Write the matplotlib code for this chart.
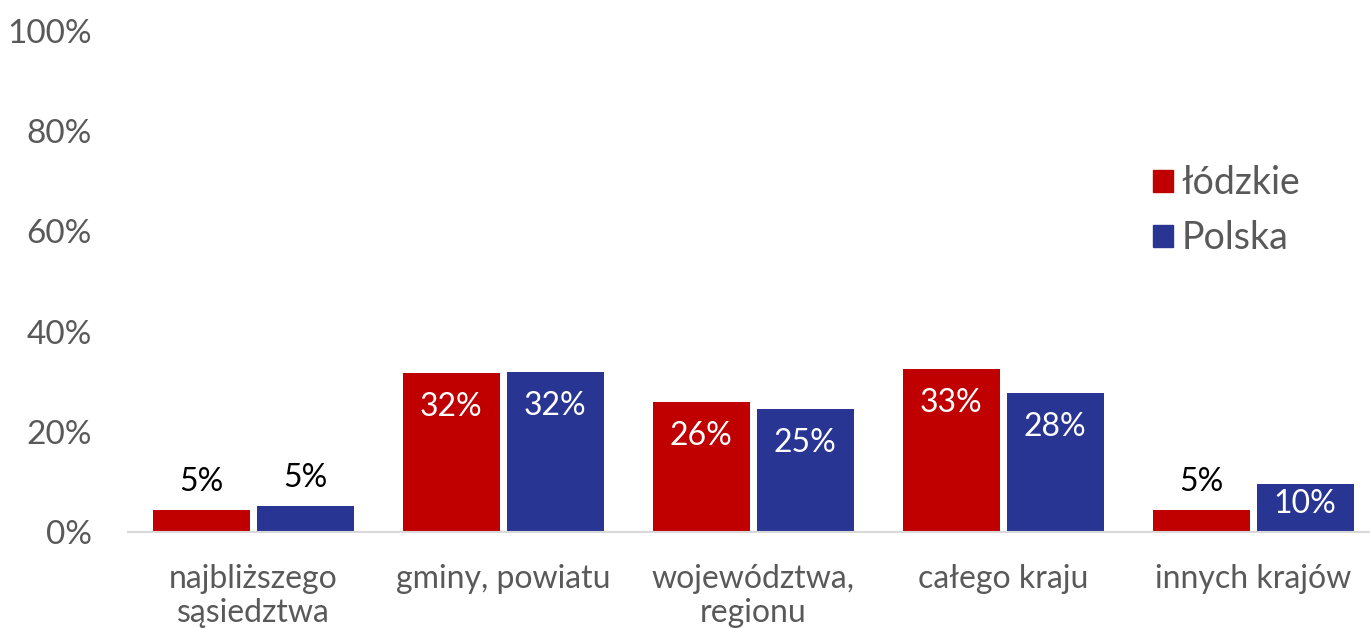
import matplotlib
matplotlib.use("Agg")
import matplotlib.pyplot as plt
import numpy as np
from matplotlib.patches import Patch

plt.rcParams['font.family'] = ['Lato', 'DejaVu Sans']

categories = ["najbliższego\nsąsiedztwa", "gminy, powiatu", "województwa,\nregionu", "całego kraju", "innych krajów"]
lodzkie = [4.4, 31.7, 25.9, 32.6, 4.4]
polska = [5.2, 31.9, 24.5, 27.7, 9.6]
lodzkie_labels = ["5%", "32%", "26%", "33%", "5%"]
polska_labels = ["5%", "32%", "25%", "28%", "10%"]
series_names = ["łódzkie", "Polska"]
yticks = [0, 20, 40, 60, 80, 100]

red = "#C00000"
blue = "#283593"
gray = "#595959"

fig = plt.figure(figsize=(13.7, 6.28), dpi=100)
ax = fig.add_axes([128/1370, (628-532)/628, 1250/1370, 501/628])

x = np.arange(len(categories))
w = 0.388
off = 0.208
b1 = ax.bar(x - off, lodzkie, w, color=red)
b2 = ax.bar(x + off, polska, w, color=blue)

ax.set_xlim(-0.5, 4.5)
ax.set_ylim(0, 100)
ax.set_yticks(yticks)
ax.set_yticklabels([f"{t}%" for t in yticks], fontsize=24, color=gray)
ax.set_xticks(x)
ax.set_xticklabels(categories, fontsize=23, color=gray, linespacing=1.17)
ax.tick_params(axis='both', length=0)
ax.tick_params(axis='x', pad=23)
ax.tick_params(axis='y', pad=26)
for s in ['top', 'right', 'left']:
    ax.spines[s].set_visible(False)
ax.spines['bottom'].set_color("#D9D9D9")
ax.spines['bottom'].set_linewidth(1.5)

def label(bars, vals, labs):
    for b, v, l in zip(bars, vals, labs):
        cx = b.get_x() + b.get_width() / 2
        if v < 8:
            ax.text(cx, v + 2.6, l, ha='center', va='bottom', fontsize=23, color='black')
        else:
            ax.text(cx, max(v - 6.8, v / 2 + 0.7), l, ha='center', va='center',
                    fontsize=23, color='white')

label(b1, lodzkie, lodzkie_labels)
label(b2, polska, polska_labels)

handles = [Patch(color=red), Patch(color=blue)]
fig.legend(handles, series_names, loc='upper left', bbox_to_anchor=(1127/1370, 1 - 139/628),
           frameon=False, fontsize=27, labelcolor=gray, handlelength=0.53, handleheight=0.53,
           handletextpad=0.22, labelspacing=0.5, borderpad=0.2)

fig.savefig("out.png", dpi=100)
